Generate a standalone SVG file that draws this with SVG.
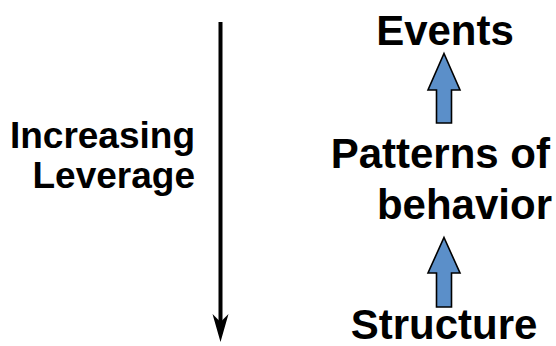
<svg xmlns="http://www.w3.org/2000/svg" width="556" height="346" viewBox="0 0 556 346">
  <style>
    .label { font-family: "Liberation Sans", Arial, sans-serif; font-weight: bold; fill: #000; }
    .big { font-size: 42px; }
    .side { font-size: 37px; }
    .up { fill: #5b8fc9; stroke: #000; stroke-width: 1.6; stroke-linejoin: miter; }
  </style>
  <rect width="556" height="346" fill="#fff"/>

  <!-- leverage axis -->
  <g id="leverage-axis">
    <line x1="220.5" y1="22" x2="220.5" y2="326" stroke="#000" stroke-width="4"/>
    <path d="M220.5,342 L212.5,314 L220.5,322 L228.5,314 Z" fill="#000"/>
    <text class="label side" x="195" y="148" text-anchor="end">Increasing</text>
    <text class="label side" x="195" y="188" text-anchor="end">Leverage</text>
  </g>

  <g id="events">
    <text class="label big" x="445" y="45" text-anchor="middle">Events</text>
  </g>

  <g id="patterns">
    <text class="label big" x="550" y="168" text-anchor="end">Patterns of</text>
    <text class="label big" x="552" y="219" text-anchor="end">behavior</text>
  </g>

  <g id="structure">
    <text class="label big" x="444" y="339" text-anchor="middle">Structure</text>
  </g>

  <!-- block arrows between levels -->
  <g id="connectors">
    <path class="up" d="M444,53.5 L460,90 L451.5,90 L451.5,123 L436.5,123 L436.5,90 L428,90 Z"/>
    <path class="up" d="M444,237.5 L460,273 L451.5,273 L451.5,307 L436.5,307 L436.5,273 L428,273 Z"/>
  </g>
</svg>
